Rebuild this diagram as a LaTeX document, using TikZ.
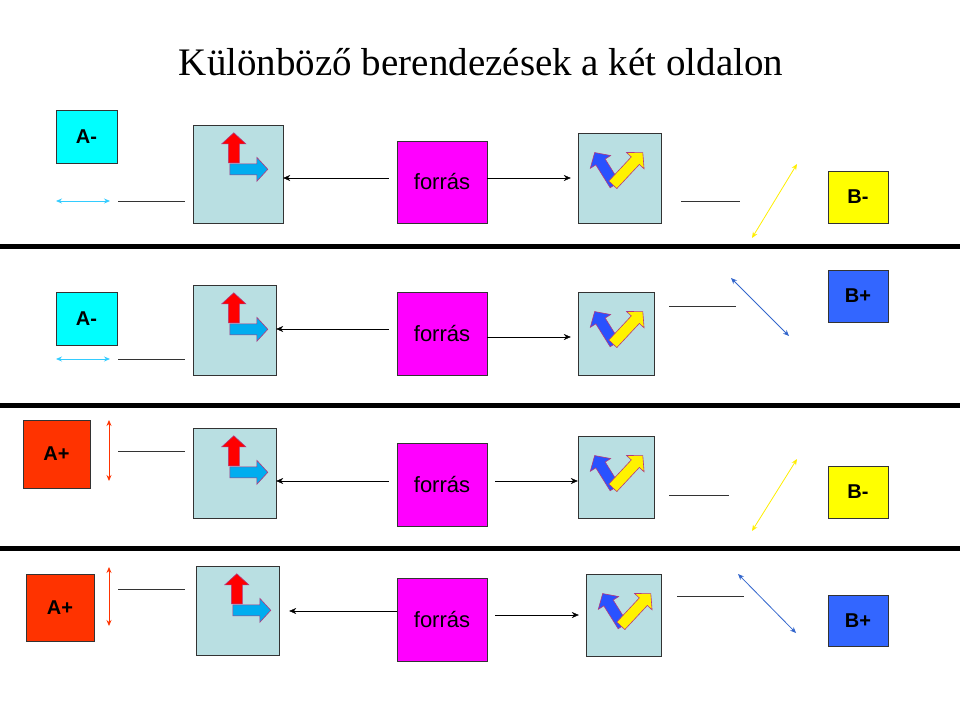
\documentclass[tikz,border=0pt]{standalone}
\usepackage{fontspec}
\setmainfont{Liberation Sans}
\newfontfamily\titlefont{Liberation Serif}
\usetikzlibrary{arrows.meta}

\definecolor{polcol}{HTML}{B9DFE2}
\definecolor{srccol}{HTML}{FF00FF}
\definecolor{amcol}{HTML}{00FFFF}
\definecolor{apcol}{HTML}{FF3300}
\definecolor{bmcol}{HTML}{FFFF00}
\definecolor{bpcol}{HTML}{3366FF}
\definecolor{lightarr}{HTML}{33CCFF}
\definecolor{bluearr}{HTML}{3366CC}
\definecolor{yelarr}{HTML}{FFEE00}

\tikzset{
  pol/.style={draw=black!80, fill=polcol, inner sep=0pt},
  src/.style={draw=black!80, fill=srccol, inner sep=0pt, font=\fontsize{22}{26}\selectfont},
  lbl/.style={draw=black!80, inner sep=0pt, font=\bfseries\fontsize{20}{24}\selectfont},
  beam/.style={-{Stealth[length=7pt,width=6pt]}, thin},
  wire/.style={black!80, thin},
  swing/.style={{Stealth[length=6pt,width=5pt]}-{Stealth[length=6pt,width=5pt]}, thick},
  sep/.style={line width=5pt},
  pics/barrow/.style={code={
    \draw[draw=magenta!70!black, line width=0.6pt, pic actions]
      (0,-5.5) -- (#1-11,-5.5) -- (#1-11,-12) -- (#1,0) -- (#1-11,12)
      -- (#1-11,5.5) -- (0,5.5) -- cycle;}},
  pics/leftglyph/.style={code={
    \pic[fill=red, rotate=90, shift={(0,0)}] at (41,38) {barrow=30};
    \pic[fill=cyan] at (37,44.5) {barrow=38};}},
  pics/rightglyph/.style={code={
    \pic[fill=bpcol!80!blue, rotate=122] at (37,52) {barrow=38};
    \pic[fill=yellow, rotate=47] at (35,52) {barrow=44};}}
}

\begin{document}
\begin{tikzpicture}[x=1pt, y=-1pt]
\useasboundingbox (0,0) rectangle (960,720);

\node (title) at (481,62) {\titlefont\fontsize{39}{46}\selectfont Különböző berendezések a két oldalon};

% separators
\draw[sep] (0,246) -- (960,246);
\draw[sep] (0,405) -- (960,405);
\draw[sep] (0,548) -- (960,548);

%% *** Row 1 ***
\node[lbl, fill=amcol, minimum width=61pt, minimum height=53pt] (a1) at (86.5,136.5) {A-};
\draw[swing, lightarr] (56,201) -- (110,201);
\draw[wire] (118,201) -- (185,201);
\node[pol, minimum width=90pt, minimum height=98pt] (lp1) at (238,174) {};
\pic at (lp1.north west) {leftglyph};
\node[src, minimum width=90pt, minimum height=82pt] (s1) at (442,182) {forrás};
\node[pol, minimum width=83pt, minimum height=90pt] (rp1) at (619.5,178) {};
\pic at (rp1.north west) {rightglyph};
\draw[beam] ([xshift=-8pt]s1.west |- 0,178) -- (lp1.east |- 0,178);
\draw[beam] (s1.east |- 0,178) -- ([xshift=-7pt]rp1.west |- 0,178);
\draw[wire] (681,201) -- (740,201);
\draw[swing, yelarr] (752,238) -- (797,164);
\node[lbl, fill=bmcol, minimum width=60pt, minimum height=52pt] (b1) at (858,197) {B-};

%% *** Row 2 ***
\node[lbl, fill=amcol, minimum width=61pt, minimum height=53pt] (a2) at (86.5,318.5) {A-};
\draw[swing, lightarr] (56,359) -- (110,359);
\draw[wire] (118,359) -- (185,359);
\node[pol, minimum width=83pt, minimum height=90pt] (lp2) at (234.5,330) {};
\pic at (lp2.north west) {leftglyph};
\node[src, minimum width=90pt, minimum height=83pt] (s2) at (442,333.5) {forrás};
\node[pol, minimum width=76pt, minimum height=83pt] (rp2) at (616,333.5) {};
\pic at (rp2.north west) {rightglyph};
\draw[beam] ([xshift=-8pt]s2.west |- 0,329) -- (lp2.east |- 0,329);
\draw[beam] (s2.east |- 0,337) -- ([xshift=-7pt]rp2.west |- 0,337);
\draw[wire] (669,306) -- (736,306);
\draw[swing, bluearr] (731,278) -- (789,336);
\node[lbl, fill=bpcol, minimum width=60pt, minimum height=52pt] (b2) at (858,296) {B+};

%% *** Row 3 ***
\node[lbl, fill=apcol, minimum width=67pt, minimum height=68pt] (a3) at (56.5,454) {A+};
\draw[swing, apcol] (109,420) -- (109,481);
\draw[wire] (118,451) -- (185,451);
\node[pol, minimum width=83pt, minimum height=90pt] (lp3) at (234.5,473) {};
\pic at (lp3.north west) {leftglyph};
\node[src, minimum width=90pt, minimum height=83pt] (s3) at (442,484.5) {forrás};
\node[pol, minimum width=76pt, minimum height=82pt] (rp3) at (616,477) {};
\pic at (rp3.north west) {rightglyph};
\draw[beam] ([xshift=-8pt]s3.west |- 0,481) -- (lp3.east |- 0,481);
\draw[beam] ([xshift=8pt]s3.east |- 0,481) -- (rp3.west |- 0,481);
\draw[wire] (669,495) -- (729,495);
\draw[swing, yelarr] (752,531) -- (797,459);
\node[lbl, fill=bmcol, minimum width=60pt, minimum height=52pt] (b3) at (858,492) {B-};

%% *** Row 4 ***
\node[lbl, fill=apcol, minimum width=68pt, minimum height=67pt] (a4) at (60,607.5) {A+};
\draw[swing, apcol] (109,567) -- (109,626);
\draw[wire] (118,589) -- (185,589);
\node[pol, minimum width=83pt, minimum height=89pt] (lp4) at (237.5,610.5) {};
\pic at (lp4.north west) {leftglyph};
\node[src, minimum width=90pt, minimum height=83pt] (s4) at (442,619.5) {forrás};
\node[pol, minimum width=75pt, minimum height=82pt] (rp4) at (623.5,615) {};
\pic at (rp4.north west) {rightglyph};
\draw[beam] (s4.west |- 0,611) -- ([xshift=10pt]lp4.east |- 0,611);
\draw[beam] ([xshift=8pt]s4.east |- 0,615) -- ([xshift=-7pt]rp4.west |- 0,615);
\draw[wire] (677,596) -- (744,596);
\draw[swing, bluearr] (738,574) -- (796,633);
\node[lbl, fill=bpcol, minimum width=60pt, minimum height=51pt] (b4) at (858,620.5) {B+};
\end{tikzpicture}
\end{document}
